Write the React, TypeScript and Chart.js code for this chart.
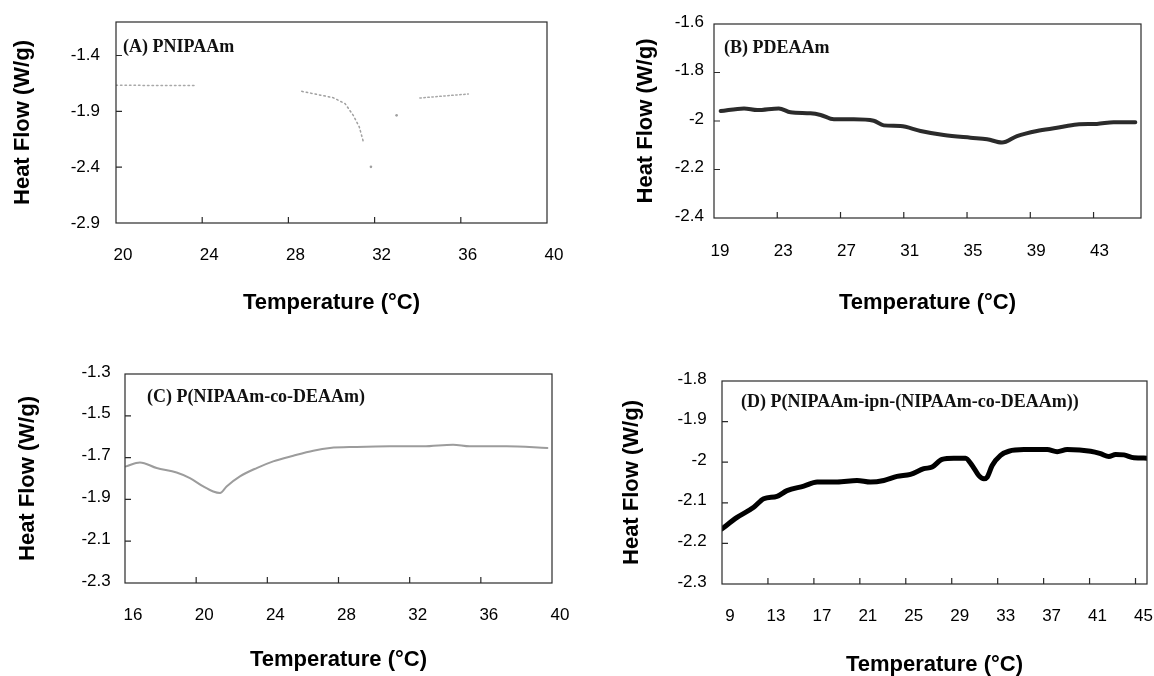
import React, { useEffect, useRef } from "react";
import { Chart, registerables } from "chart.js";

Chart.register(...registerables);
Chart.defaults.font.family = '"Liberation Sans", Arial, Helvetica, sans-serif';
Chart.defaults.color = "#000";

// ---------- Panel A: PNIPAAm ----------
const aXTicks = [20, 24, 28, 32, 36, 40];
const aYTicks = [-2.9, -2.4, -1.9, -1.4];
const aSeg1Temp = [20, 21.5, 23.7];
const aSeg1Heat = [-1.666, -1.668, -1.668];
const aSeg2Temp = [28.62, 30.08, 30.63, 31.01, 31.29, 31.48];
const aSeg2Heat = [-1.721, -1.778, -1.831, -1.936, -2.04, -2.174];
const aDotTemp = [31.83, 33.02];
const aDotHeat = [-2.397, -1.936];
const aSeg3Temp = [34.1, 35.19, 36.35];
const aSeg3Heat = [-1.781, -1.763, -1.745];

// ---------- Panel B: PDEAAm ----------
const bXTicks = [19, 23, 27, 31, 35, 39, 43];
const bYTicks = [-2.4, -2.2, -2, -1.8, -1.6];
const bTemp = [19.42, 20.9, 21.74, 23.1, 23.84, 25.1, 25.74, 26.58, 27.84, 29.1, 29.74, 30.79, 32.06, 33.53, 35.22, 36.27, 37.21, 38.16, 39.42, 40.69, 41.95, 43.21, 44.27, 45.64];
const bHeat = [-1.959, -1.948, -1.955, -1.948, -1.964, -1.968, -1.975, -1.993, -1.993, -1.999, -2.018, -2.021, -2.041, -2.058, -2.069, -2.075, -2.089, -2.062, -2.041, -2.028, -2.014, -2.012, -2.005, -2.005];

// ---------- Panel C: P(NIPAAm-co-DEAAm) ----------
const cXTicks = [16, 20, 24, 28, 32, 36, 40];
const cYTicks = [-2.3, -2.1, -1.9, -1.7, -1.5, -1.3];
const cTemp = [16.06, 16.84, 17.78, 18.9, 19.65, 20.4, 20.96, 21.34, 21.71, 22.46, 23.4, 24.33, 25.46, 26.58, 27.52, 29.02, 30.89, 32.76, 34.44, 35.38, 37.44, 39.74];
const cHeat = [-1.742, -1.723, -1.75, -1.771, -1.798, -1.838, -1.862, -1.869, -1.838, -1.79, -1.75, -1.718, -1.691, -1.667, -1.654, -1.649, -1.646, -1.646, -1.638, -1.646, -1.646, -1.654];

// ---------- Panel D: P(NIPAAm-ipn-(NIPAAm-co-DEAAm)) ----------
const dXTicks = [9, 13, 17, 21, 25, 29, 33, 37, 41, 45];
const dYTicks = [-2.3, -2.2, -2.1, -2, -1.9, -1.8];
const dTemp = [9, 10.31, 11.76, 12.63, 13.79, 14.66, 16.12, 17.28, 19.02, 20.76, 21.93, 23.09, 24.24, 25.41, 26.57, 27.29, 28.16, 29.18, 30.2, 30.78, 31.36, 31.8, 32.08, 32.52, 33.25, 33.97, 35.28, 37.31, 38.18, 39.05, 41.09, 41.96, 42.68, 43.27, 43.99, 44.86, 46];
const dHeat = [-2.164, -2.136, -2.111, -2.09, -2.084, -2.07, -2.059, -2.049, -2.049, -2.045, -2.049, -2.045, -2.035, -2.03, -2.016, -2.012, -1.993, -1.99, -1.99, -2.008, -2.033, -2.041, -2.037, -2.008, -1.983, -1.973, -1.969, -1.969, -1.974, -1.969, -1.973, -1.979, -1.986, -1.981, -1.982, -1.989, -1.99];

const xTitle = "Temperature (°C)";
const yTitle = "Heat Flow (W/g)";

const toXY = (t: number[], h: number[]) => t.map((x, i) => ({ x, y: h[i] }));

type SeriesDef = {
  t: number[];
  h: number[];
  color: string;
  width: number;
  dash?: number[];
  dots?: boolean;
  smooth?: boolean;
};

type PanelDef = {
  id: string;
  left: number;
  top: number;
  width: number;
  height: number;
  pad: { left: number; top: number; right: number; bottom: number };
  yWidth: number;
  xHeight: number;
  yTitlePad: number;
  yTickPad: number;
  yLabelOffset: number;
  xTickPad: number;
  xLabelOffset: number;
  xTitlePad: number;
  xMin: number;
  xMax: number;
  yMin: number;
  yMax: number;
  xTicks: number[];
  yTicks: number[];
  label: string;
  labelDx: number;
  labelDy: number;
  series: SeriesDef[];
};

const panels: PanelDef[] = [
  {
    id: "A", left: 0, top: 0, width: 580, height: 330,
    pad: { left: 0, top: 22, right: 33, bottom: 0 },
    yWidth: 116, xHeight: 107,
    yTitlePad: 10, yTickPad: 16, yLabelOffset: 0,
    xTickPad: 22, xLabelOffset: 7, xTitlePad: 13.5,
    xMin: 20, xMax: 40, yMin: -2.9, yMax: -1.1,
    xTicks: aXTicks, yTicks: aYTicks,
    label: "(A) PNIPAAm", labelDx: 7, labelDy: 25,
    series: [
      { t: aSeg1Temp, h: aSeg1Heat, color: "#a8a8a8", width: 1.5, dash: [1.5, 3] },
      { t: aSeg2Temp, h: aSeg2Heat, color: "#a0a0a0", width: 1.5, dash: [1.5, 3] },
      { t: aSeg3Temp, h: aSeg3Heat, color: "#a8a8a8", width: 1.5, dash: [1.5, 2.5] },
      { t: aDotTemp, h: aDotHeat, color: "#a0a0a0", width: 1, dots: true },
    ],
  },
  {
    id: "B", left: 580, top: 0, width: 574, height: 330,
    pad: { left: 0, top: 24, right: 13, bottom: 0 },
    yWidth: 134, xHeight: 112,
    yTitlePad: 52.8, yTickPad: 10, yLabelOffset: -2,
    xTickPad: 23, xLabelOffset: 6, xTitlePad: 13.5,
    xMin: 19, xMax: 46, yMin: -2.4, yMax: -1.6,
    xTicks: bXTicks, yTicks: bYTicks,
    label: "(B) PDEAAm", labelDx: 10, labelDy: 24,
    series: [{ t: bTemp, h: bHeat, color: "#2b2b2b", width: 4, smooth: true }],
  },
  {
    id: "C", left: 0, top: 330, width: 580, height: 346,
    pad: { left: 0, top: 44, right: 28, bottom: 0 },
    yWidth: 125, xHeight: 93,
    yTitlePad: 14.8, yTickPad: 14.3, yLabelOffset: -2,
    xTickPad: 21.8, xLabelOffset: 8, xTitlePad: 2.8,
    xMin: 16, xMax: 40, yMin: -2.3, yMax: -1.3,
    xTicks: cXTicks, yTicks: cYTicks,
    label: "(C) P(NIPAAm-co-DEAAm)", labelDx: 22, labelDy: 23,
    series: [{ t: cTemp, h: cHeat, color: "#9c9c9c", width: 2, smooth: true }],
  },
  {
    id: "D", left: 580, top: 330, width: 574, height: 346,
    pad: { left: 0, top: 51, right: 7, bottom: 0 },
    yWidth: 142, xHeight: 92,
    yTitlePad: 38.5, yTickPad: 15.3, yLabelOffset: -2,
    xTickPad: 21.8, xLabelOffset: 8, xTitlePad: -2,
    xMin: 9, xMax: 46, yMin: -2.3, yMax: -1.8,
    xTicks: dXTicks, yTicks: dYTicks,
    label: "(D) P(NIPAAm-ipn-(NIPAAm-co-DEAAm))", labelDx: 19, labelDy: 21,
    series: [{ t: dTemp, h: dHeat, color: "#000", width: 5, smooth: true }],
  },
];

const framePlugin = {
  id: "frame",
  afterDatasetsDraw(chart: any, _args: any, opts: any) {
    const { ctx, chartArea: a, scales } = chart;
    ctx.save();
    ctx.strokeStyle = "#2a2a2a";
    ctx.lineWidth = 1.2;
    ctx.strokeRect(a.left, a.top, a.right - a.left, a.bottom - a.top);
    const xs = scales.x;
    const ys = scales.y;
    ctx.beginPath();
    for (const t of xs.ticks) {
      const px = xs.getPixelForValue(t.value);
      if (px > a.left + 1 && px < a.right - 1) {
        ctx.moveTo(px, a.bottom);
        ctx.lineTo(px, a.bottom - 6);
      }
    }
    for (const t of ys.ticks) {
      const py = ys.getPixelForValue(t.value);
      if (py > a.top + 1 && py < a.bottom - 1) {
        ctx.moveTo(a.left, py);
        ctx.lineTo(a.left + 6, py);
      }
    }
    ctx.stroke();
    if (opts && opts.label) {
      ctx.font = 'bold 18px "Liberation Serif", "Times New Roman", serif';
      ctx.fillStyle = "#111";
      ctx.textBaseline = "middle";
      ctx.textAlign = "left";
      ctx.fillText(opts.label, a.left + opts.dx, a.top + opts.dy);
    }
    ctx.restore();
  },
};

function Panel({ p }: { p: PanelDef }) {
  const ref = useRef<HTMLCanvasElement | null>(null);
  useEffect(() => {
    if (!ref.current) return;
    const datasets = p.series.map((s) => ({
      data: toXY(s.t, s.h),
      borderColor: s.color,
      backgroundColor: s.color,
      borderWidth: s.width,
      borderDash: s.dash || [],
      showLine: !s.dots,
      pointRadius: s.dots ? 1.3 : 0,
      pointBorderWidth: 0,
      fill: false,
      cubicInterpolationMode: s.smooth ? ("monotone" as const) : ("default" as const),
      borderCapStyle: "round" as const,
      borderJoinStyle: "round" as const,
    }));
    const chart = new Chart(ref.current, {
      type: "line",
      data: { datasets },
      plugins: [framePlugin],
      options: {
        animation: false,
        responsive: false,
        maintainAspectRatio: false,
        events: [],
        layout: { padding: p.pad },
        plugins: {
          legend: { display: false },
          tooltip: { enabled: false },
          frame: { label: p.label, dx: p.labelDx, dy: p.labelDy },
        } as any,
        scales: {
          x: {
            type: "linear",
            position: "bottom",
            min: p.xMin,
            max: p.xMax,
            grid: { display: false, drawTicks: false },
            border: { display: false },
            afterBuildTicks: (s: any) => {
              s.ticks = p.xTicks.map((v) => ({ value: v }));
            },
            afterFit: (s: any) => {
              s.height = p.xHeight;
              s.paddingLeft = 0;
              s.paddingRight = 0;
            },
            ticks: {
              autoSkip: false,
              maxRotation: 0,
              padding: p.xTickPad,
              labelOffset: p.xLabelOffset,
              font: { size: 17 },
              color: "#000",
              callback: (v: any) => String(v),
            },
            title: {
              display: true,
              text: xTitle,
              font: { size: 22, weight: "bold" },
              color: "#000",
              padding: { top: 0, bottom: p.xTitlePad },
            },
          },
          y: {
            type: "linear",
            position: "left",
            min: p.yMin,
            max: p.yMax,
            grid: { display: false, drawTicks: false },
            border: { display: false },
            afterBuildTicks: (s: any) => {
              s.ticks = p.yTicks.map((v) => ({ value: v }));
            },
            afterFit: (s: any) => {
              s.width = p.yWidth;
              s.paddingTop = 0;
              s.paddingBottom = 0;
            },
            ticks: {
              autoSkip: false,
              padding: p.yTickPad,
              labelOffset: p.yLabelOffset,
              font: { size: 17 },
              color: "#000",
              callback: (v: any) => String(v),
            },
            title: {
              display: true,
              text: yTitle,
              font: { size: 22, weight: "bold" },
              color: "#000",
              padding: { top: p.yTitlePad, bottom: 0 },
            },
          },
        },
      } as any,
    });
    return () => chart.destroy();
  }, [p]);
  return (
    <canvas
      ref={ref}
      width={p.width}
      height={p.height}
      style={{ position: "absolute", left: p.left, top: p.top, width: p.width, height: p.height, display: "block" }}
    />
  );
}

export default function App() {
  return (
    <div style={{ position: "absolute", left: 0, top: 0, width: 1154, height: 676, background: "#fff", overflow: "hidden" }}>
      {panels.map((p) => (
        <Panel key={p.id} p={p} />
      ))}
    </div>
  );
}
